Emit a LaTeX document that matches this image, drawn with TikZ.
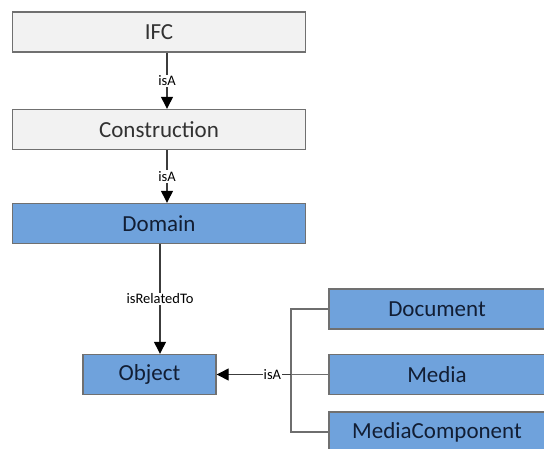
\documentclass[tikz,border=0pt]{standalone}
\usepackage{fontspec}
\setmainfont{Carlito}
\usepackage{tikz}
\usetikzlibrary{positioning,arrows.meta}
\tikzstyle{diagram} = [x = 1pt, y = -1pt]
\definecolor{boxBorder}{RGB}{112,112,112}
\definecolor{greyFill}{RGB}{242,242,242}
\definecolor{greyText}{RGB}{50,50,50}
\definecolor{blueFill}{RGB}{111,162,220}
\definecolor{blueText}{RGB}{18,30,52}
\definecolor{lineColor}{RGB}{60,60,60}
\definecolor{bracketColor}{RGB}{110,110,110}
\tikzstyle{classBox} = [draw=boxBorder, line width=1.4pt, minimum height=40pt, inner sep=0pt, font=\fontsize{23}{23}\selectfont]
\tikzstyle{greyBox} = [classBox, fill=greyFill, text=greyText, minimum width=293pt]
\tikzstyle{blueBox} = [classBox, fill=blueFill, text=blueText]
\tikzstyle{sideBox} = [blueBox, minimum width=216pt]
\tikzstyle{arrowLine} = [draw=lineColor, line width=1.3pt, -{Triangle[width=12pt,length=12pt,color=black,fill=black]}]
\tikzstyle{bracketLine} = [draw=bracketColor, line width=1.3pt]
\tikzstyle{relText} = [fill=white, text=black, inner sep=1pt, font=\fontsize{14.5}{14.5}\selectfont]

\begin{document}
\begin{tikzpicture}[diagram]
  \useasboundingbox (0,0) rectangle (544,448);
  % top chain
  \node [greyBox] (ifc) at (159,32) {IFC};
  \node [greyBox] (construction) at (159,129.5) {Construction};
  \node [blueBox, minimum width=293pt] (domain) at (159,223.5) {Domain};
  \node [blueBox, minimum width=133pt] (object) at (149.5,374.5) {Object};
  % right column
  \node [sideBox] (document) at (437,309) {Document};
  \node [sideBox] (media) at (437,374.5) {Media};
  \node [sideBox] (mediaComponent) at (437,432) {MediaComponent};
  % connectors
  \coordinate (ifcFoot) at ([xshift=8pt]ifc.south);
  \coordinate (constructionFoot) at ([xshift=8pt]construction.south);
  \coordinate (domainFoot) at ([xshift=1pt]domain.south);
  \draw [arrowLine] (ifcFoot) -- (ifcFoot |- construction.north) node [relText, midway] {isA};
  \draw [arrowLine] (constructionFoot) -- (constructionFoot |- domain.north) node [relText, midway] {isA};
  \draw [arrowLine] (domainFoot) -- (domainFoot |- object.north) node [relText, midway] {isRelatedTo};
  \coordinate (bracketTop) at (291,309);
  \coordinate (bracketBottom) at (291,432);
  \draw [bracketLine] (document.west) -- (bracketTop) -- (bracketBottom) -- (mediaComponent.west);
  \draw [bracketLine] (media.west) -- (bracketTop |- media.west);
  \draw [arrowLine] (bracketTop |- media.west) -- (object.east) node [relText, pos=0.25, inner sep=0.5pt] {isA};
\end{tikzpicture}
\end{document}
